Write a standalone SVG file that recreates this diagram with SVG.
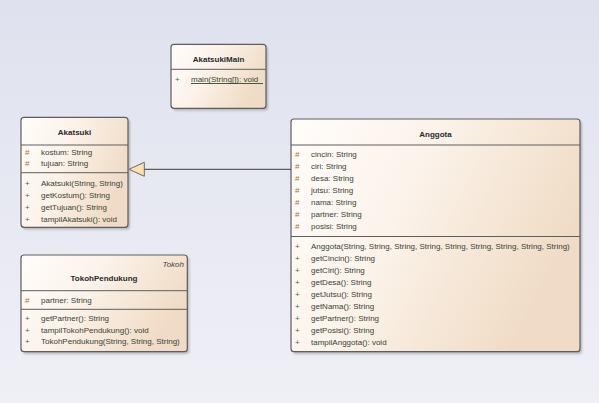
<svg xmlns="http://www.w3.org/2000/svg" width="599" height="403" viewBox="0 0 599 403">
<defs>
<linearGradient id="bg" x1="0" y1="0" x2="0" y2="1">
<stop offset="0" stop-color="#dfe1ee"/>
<stop offset="1" stop-color="#eff0f6"/>
</linearGradient>
<linearGradient id="cls" x1="0" y1="0" x2="1" y2="0.4">
<stop offset="0" stop-color="#fffdfb"/>
<stop offset="0.45" stop-color="#fcf3ea"/>
<stop offset="1" stop-color="#f0dcc6"/>
</linearGradient>
<filter id="sh" x="-10%" y="-10%" width="120%" height="130%">
<feGaussianBlur stdDeviation="0.8"/>
</filter>
</defs>
<style>
.box{fill:url(#cls);stroke:#5e5e5e;stroke-width:1.2}
.shadow{fill:#8a8a8a;opacity:0.55;filter:url(#sh)}
.div{stroke:#5e5e5e;stroke-width:1}
text{font-family:"Liberation Sans",Arial,sans-serif;font-size:8px;fill:#3b4133}
.t{font-weight:bold;fill:#2a2a2a;text-anchor:middle}
.h{fill:#b0702e}
.p{fill:#3d6b3d}
.st{font-style:italic;text-anchor:end;fill:#444}
</style>
<rect width="599" height="403" fill="url(#bg)"/>

<g id="connectors">
<line x1="144" y1="169.3" x2="291" y2="169.3" stroke="#5e5e5e" stroke-width="1.2"/>
<polygon points="129,169.3 144.3,162.3 144.3,176.3" fill="#fde2ad" stroke="#6a6a6a" stroke-width="1"/>
</g>

<g id="AkatsukiMain">
<rect class="shadow" x="173" y="46.5" width="95" height="64" rx="3"/>
<rect class="box" x="171" y="44.3" width="95" height="64" rx="3"/>
<text class="t" x="218.5" y="62">AkatsukiMain</text>
<line class="div" x1="171" y1="69.3" x2="266" y2="69.3"/>
<text class="p" x="175" y="81.5">+</text>
<text x="191" y="81.5">main(String[]): void</text>
<line x1="191" y1="83.5" x2="263" y2="83.5" stroke="#2e4d2e" stroke-width="0.9"/>
</g>

<g id="Akatsuki">
<rect class="shadow" x="23" y="119.5" width="107" height="110" rx="3"/>
<rect class="box" x="21" y="117.3" width="107" height="110" rx="3"/>
<text class="t" x="74.5" y="135">Akatsuki</text>
<line class="div" x1="21" y1="145" x2="128" y2="145"/>
<text class="h" x="25" y="154.5">#</text>
<text x="41" y="154.5">kostum: String</text>
<text class="h" x="25" y="165.5">#</text>
<text x="41" y="165.5">tujuan: String</text>
<line class="div" x1="21" y1="172.7" x2="128" y2="172.7"/>
<text class="p" x="25" y="185.5">+</text>
<text x="41" y="185.5">Akatsuki(String, String)</text>
<text class="p" x="25" y="198">+</text>
<text x="41" y="198">getKostum(): String</text>
<text class="p" x="25" y="210">+</text>
<text x="41" y="210">getTujuan(): String</text>
<text class="p" x="25" y="221.5">+</text>
<text x="41" y="221.5">tampilAkatsuki(): void</text>
</g>

<g id="TokohPendukung">
<rect class="shadow" x="23" y="257.2" width="166.3" height="96.7" rx="3"/>
<rect class="box" x="21" y="255" width="166.3" height="96.7" rx="3"/>
<text class="st" x="184" y="267">Tokoh</text>
<text class="t" x="104" y="281">TokohPendukung</text>
<line class="div" x1="21" y1="290.7" x2="187.3" y2="290.7"/>
<text class="h" x="25" y="302.5">#</text>
<text x="41" y="302.5">partner: String</text>
<line class="div" x1="21" y1="309.3" x2="187.3" y2="309.3"/>
<text class="p" x="25" y="321">+</text>
<text x="41" y="321">getPartner(): String</text>
<text class="p" x="25" y="332.7">+</text>
<text x="41" y="332.7">tampilTokohPendukung(): void</text>
<text class="p" x="25" y="344">+</text>
<text x="41" y="344">TokohPendukung(String, String, String)</text>
</g>

<g id="Anggota">
<rect class="shadow" x="293" y="121.2" width="289" height="232.7" rx="3"/>
<rect class="box" x="291" y="119" width="289" height="232.7" rx="3"/>
<text class="t" x="435.5" y="137">Anggota</text>
<line class="div" x1="291" y1="145" x2="580" y2="145"/>
<text class="h" x="295" y="157">#</text><text x="311" y="157">cincin: String</text>
<text class="h" x="295" y="169">#</text><text x="311" y="169">ciri: String</text>
<text class="h" x="295" y="181">#</text><text x="311" y="181">desa: String</text>
<text class="h" x="295" y="193">#</text><text x="311" y="193">jutsu: String</text>
<text class="h" x="295" y="205">#</text><text x="311" y="205">nama: String</text>
<text class="h" x="295" y="217">#</text><text x="311" y="217">partner: String</text>
<text class="h" x="295" y="229">#</text><text x="311" y="229">posisi: String</text>
<line class="div" x1="291" y1="236.5" x2="580" y2="236.5"/>
<text class="p" x="295" y="248.5">+</text><text x="311" y="248.5">Anggota(String, String, String, String, String, String, String, String, String)</text>
<text class="p" x="295" y="260.5">+</text><text x="311" y="260.5">getCincin(): String</text>
<text class="p" x="295" y="272.5">+</text><text x="311" y="272.5">getCiri(): String</text>
<text class="p" x="295" y="284.5">+</text><text x="311" y="284.5">getDesa(): String</text>
<text class="p" x="295" y="296.5">+</text><text x="311" y="296.5">getJutsu(): String</text>
<text class="p" x="295" y="308.5">+</text><text x="311" y="308.5">getNama(): String</text>
<text class="p" x="295" y="320.5">+</text><text x="311" y="320.5">getPartner(): String</text>
<text class="p" x="295" y="332.5">+</text><text x="311" y="332.5">getPosisi(): String</text>
<text class="p" x="295" y="344.5">+</text><text x="311" y="344.5">tampilAnggota(): void</text>
</g>
</svg>
